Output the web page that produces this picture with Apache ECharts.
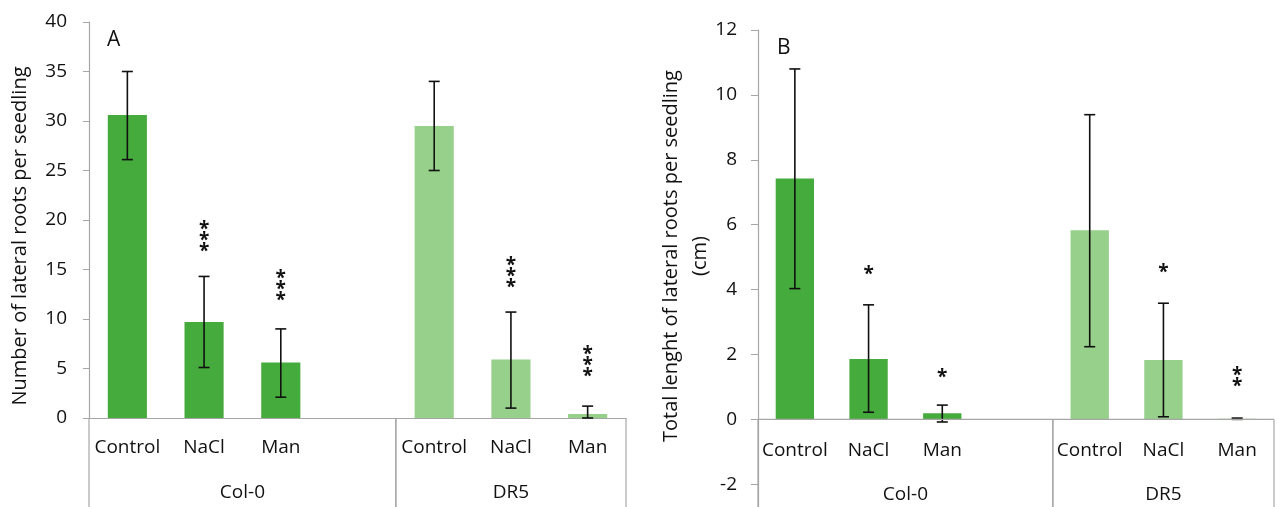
<!DOCTYPE html>
<html>
<head>
<meta charset="utf-8">
<script src="https://cdn.jsdelivr.net/npm/echarts@6/dist/echarts.min.js"></script>
<style>
html, body { margin: 0; padding: 0; background: #fff; }
#main { width: 1277px; height: 507px; }
</style>
</head>
<body>
<div id="main"></div>
<script>
// categories (empty slot separates the two lines)
var categories = ['Control', 'NaCl', 'Man', '', 'Control', 'NaCl', 'Man'];
var groupNames = ['Col-0', 'DR5'];
var groupStart = [0, 4];
var groupEnd = [4, 7];

// A: number of lateral roots per seedling
var lrNumber = [30.6, 9.7, 5.6, null, 29.5, 5.9, 0.4];
var lrNumberLow = [26.1, 5.1, 2.1, null, 25.0, 1.0, 0];
var lrNumberHigh = [35.0, 14.3, 9.0, null, 34.0, 10.7, 1.2];
var lrNumberStars = ['', '***', '***', '', '', '***', '***'];
var lrNumberStarPos = [null, 18.3, 13.4, null, null, 14.7, 5.7];

// B: total length of lateral roots per seedling (cm)
var lrLength = [7.42, 1.86, 0.19, null, 5.83, 1.83, 0.02];
var lrLengthLow = [4.03, 0.22, -0.08, null, 2.24, 0.08, 0.0];
var lrLengthHigh = [10.8, 3.53, 0.44, null, 9.39, 3.58, 0.04];
var lrLengthStars = ['', '*', '*', '', '', '*', '**'];
var lrLengthStarPos = [null, 4.6, 1.4, null, null, 4.65, 1.3];

var ticksA = [0, 5, 10, 15, 20, 25, 30, 35, 40];
var ticksB = [-2, 0, 2, 4, 6, 8, 10, 12];

var FONT = '"Open Sans", "Liberation Sans", sans-serif';
var DARK = '#46ab3d';
var LIGHT = '#96d08b';
var AXIS = '#a6a6a6';

function barData(values) {
    return values.map(function (v, i) {
        return { value: v, itemStyle: { color: i < 3 ? DARK : LIGHT } };
    });
}

function errData(low, high) {
    var out = [];
    for (var i = 0; i < low.length; i++) {
        if (low[i] != null) out.push([i, low[i], high[i]]);
    }
    return out;
}

function starData(pos) {
    var out = [];
    for (var i = 0; i < pos.length; i++) {
        if (pos[i] != null) out.push([i, pos[i]]);
    }
    return out;
}

function renderErr(params, api) {
    var top = api.coord([api.value(0), api.value(2)]);
    var bot = api.coord([api.value(0), api.value(1)]);
    var w = 5.5;
    var st = { stroke: '#111', lineWidth: 1.6 };
    return {
        type: 'group',
        children: [
            { type: 'line', shape: { x1: top[0], y1: top[1], x2: bot[0], y2: bot[1] }, style: st },
            { type: 'line', shape: { x1: top[0] - w, y1: top[1], x2: top[0] + w, y2: top[1] }, style: st },
            { type: 'line', shape: { x1: bot[0] - w, y1: bot[1], x2: bot[0] + w, y2: bot[1] }, style: st }
        ]
    };
}

function makeStarRender(texts) {
    return function (params, api) {
        var idx = api.value(0);
        var p = api.coord([idx, api.value(1)]);
        var t = texts[idx].split('').join('\n');
        return {
            type: 'text',
            x: p[0],
            y: p[1] + 4,
            style: {
                text: t,
                fontSize: 19,
                fontWeight: 'bold',
                fontFamily: FONT,
                lineHeight: 11,
                align: 'center',
                verticalAlign: 'middle',
                fill: '#111'
            }
        };
    };
}

// group boxes under the category axis, and the category labels for chart B
function makeGroupRender(withLabels) {
    return function (params, api) {
        var i = params.dataIndex;
        var band = api.size([1, 0])[0];
        var c0 = api.coord([groupStart[i], 0]);
        var c1 = api.coord([groupEnd[i] - 1, 0]);
        var x1 = c0[0] - band / 2;
        var x2 = c1[0] + band / 2;
        var y0 = c0[1];
        var h = api.getHeight();
        var st = { stroke: AXIS, lineWidth: 1.2 };
        var children = [
            { type: 'line', shape: { x1: x1, y1: y0, x2: x1, y2: h }, style: st },
            { type: 'line', shape: { x1: x2, y1: y0, x2: x2, y2: h }, style: st },
            {
                type: 'text', x: (x1 + x2) / 2, y: y0 + 75,
                style: { text: groupNames[i], fontSize: 19, fontFamily: FONT, fill: '#111', align: 'center', verticalAlign: 'middle' }
            }
        ];
        if (withLabels) {
            children.push({ type: 'line', shape: { x1: x1, y1: y0, x2: x2, y2: y0 }, style: st });
            for (var k = groupStart[i]; k < groupEnd[i]; k++) {
                var c = api.coord([k, 0]);
                children.push({
                    type: 'text', x: c[0], y: y0 + 31,
                    style: { text: categories[k], fontSize: 19, fontFamily: FONT, fill: '#111', align: 'center', verticalAlign: 'middle' }
                });
            }
        }
        return { type: 'group', children: children };
    };
}

var groupData = groupStart.map(function (s) { return [s, 0]; });

var chart = echarts.init(document.getElementById('main'));
chart.setOption({
    backgroundColor: '#fff',
    animation: false,
    textStyle: { fontFamily: FONT },
    graphic: [
        { type: 'text', x: 107, y: 30, style: { text: 'A', fontSize: 21, fontFamily: FONT, fill: '#111' } },
        { type: 'text', x: 777, y: 38, style: { text: 'B', fontSize: 21, fontFamily: FONT, fill: '#111' } },
        {
            type: 'text', x: 20, y: 236, rotation: Math.PI / 2,
            style: { text: 'Number of lateral roots per seedling', fontSize: 20, fontFamily: FONT, fill: '#111', align: 'center', verticalAlign: 'middle' }
        },
        {
            type: 'text', x: 686, y: 256, rotation: Math.PI / 2,
            style: { text: 'Total lenght of lateral roots per seedling\n(cm)', fontSize: 20, lineHeight: 29, fontFamily: FONT, fill: '#111', align: 'center', verticalAlign: 'middle' }
        }
    ],
    grid: [
        { left: 89, top: 22, width: 537, height: 396, outerBoundsMode: 'none', containLabel: false },
        { left: 758, top: 30, width: 516, height: 477, outerBoundsMode: 'none', containLabel: false }
    ],
    xAxis: [
        {
            type: 'category', gridIndex: 0, data: categories,
            axisLine: { lineStyle: { color: AXIS, width: 1.2 } },
            axisTick: { show: false },
            axisLabel: { interval: 0, margin: 20, fontSize: 19, color: '#111' }
        },
        {
            type: 'category', gridIndex: 1, data: categories,
            axisLine: { show: false },
            axisTick: { show: false },
            axisLabel: { show: false }
        }
    ],
    yAxis: [
        {
            type: 'value', gridIndex: 0, min: 0, max: 40, interval: 5,
            axisLine: { show: true, lineStyle: { color: AXIS, width: 1.2 } },
            axisTick: { show: true, length: 6, lineStyle: { color: AXIS } },
            axisLabel: { margin: 22, fontSize: 19, color: '#111' },
            splitLine: { show: false }
        },
        {
            type: 'value', gridIndex: 1, min: -2.7, max: 12,
            axisLine: { show: true, onZero: false, lineStyle: { color: AXIS, width: 1.2 } },
            axisTick: { show: true, length: 7, customValues: ticksB, lineStyle: { color: AXIS } },
            axisLabel: { margin: 21, fontSize: 19, color: '#111', customValues: ticksB },
            splitLine: { show: false }
        }
    ],
    series: [
        { type: 'bar', xAxisIndex: 0, yAxisIndex: 0, barWidth: '51%', data: barData(lrNumber) },
        { type: 'custom', xAxisIndex: 0, yAxisIndex: 0, renderItem: renderErr, data: errData(lrNumberLow, lrNumberHigh), encode: { x: 0, y: [1, 2] }, z: 5 },
        { type: 'custom', xAxisIndex: 0, yAxisIndex: 0, renderItem: makeStarRender(lrNumberStars), data: starData(lrNumberStarPos), encode: { x: 0, y: 1 }, z: 5 },
        { type: 'custom', xAxisIndex: 0, yAxisIndex: 0, renderItem: makeGroupRender(false), data: groupData, encode: { x: 0, y: 1 }, clip: false, z: 5 },

        { type: 'bar', xAxisIndex: 1, yAxisIndex: 1, barWidth: '52%', data: barData(lrLength) },
        { type: 'custom', xAxisIndex: 1, yAxisIndex: 1, renderItem: renderErr, data: errData(lrLengthLow, lrLengthHigh), encode: { x: 0, y: [1, 2] }, z: 5 },
        { type: 'custom', xAxisIndex: 1, yAxisIndex: 1, renderItem: makeStarRender(lrLengthStars), data: starData(lrLengthStarPos), encode: { x: 0, y: 1 }, z: 5 },
        { type: 'custom', xAxisIndex: 1, yAxisIndex: 1, renderItem: makeGroupRender(true), data: groupData, encode: { x: 0, y: 1 }, clip: false, z: 5 }
    ]
});
</script>
</body>
</html>
